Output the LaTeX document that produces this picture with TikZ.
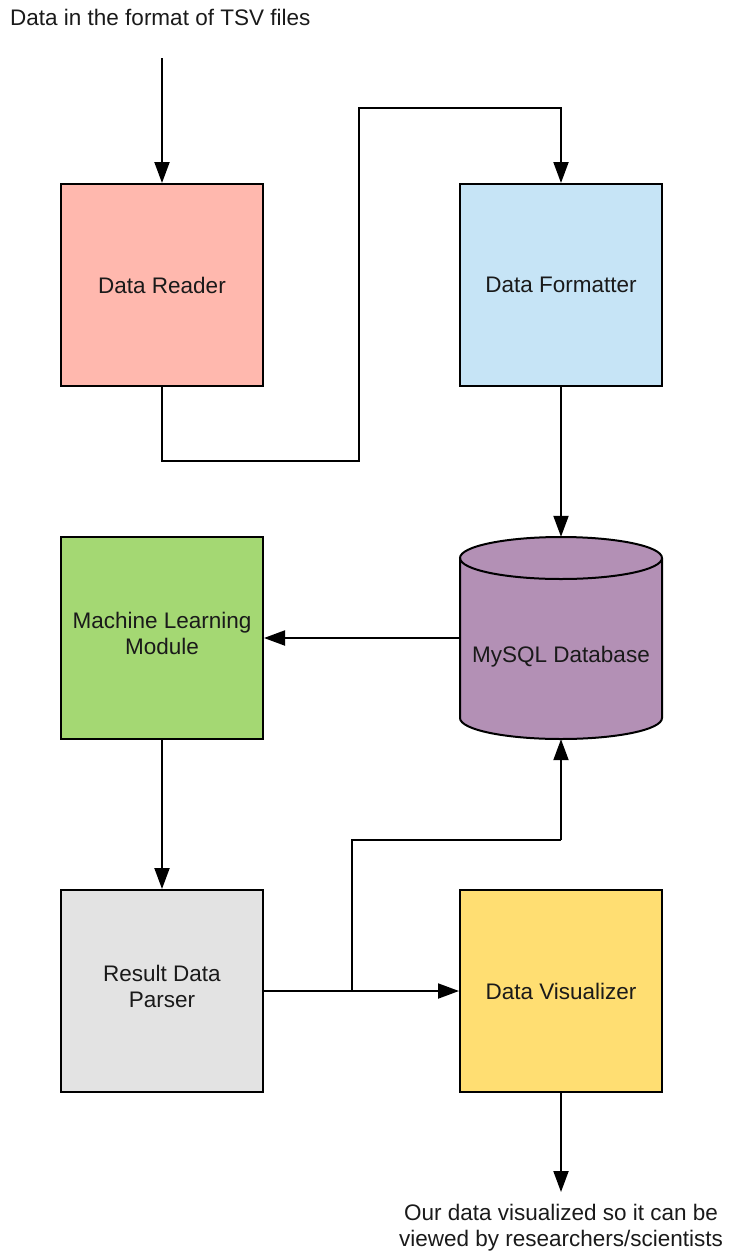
\documentclass[tikz,border=0pt]{standalone}
\usepackage{fontspec}
\setmainfont{Liberation Sans}
\usetikzlibrary{arrows.meta}
\definecolor{readerfill}{HTML}{FFB8AE}
\definecolor{formatfill}{HTML}{C6E4F6}
\definecolor{mlfill}{HTML}{A4D873}
\definecolor{dbfill}{HTML}{B390B5}
\definecolor{parsefill}{HTML}{E3E3E3}
\definecolor{visfill}{HTML}{FFDE72}
\definecolor{ink}{HTML}{1A1A1A}
\begin{document}
\begin{tikzpicture}[x=1pt,y=-1pt,
  font=\fontsize{22.5}{26}\selectfont,
  block/.style={draw=black,line width=2pt,minimum width=202pt,minimum height=202pt,
    inner sep=0pt,align=center,text=ink},
  flow/.style={draw=black,line width=2pt,-{Triangle[length=21pt,width=15pt]}},
  wire/.style={draw=black,line width=2pt},
  label/.style={text=ink,inner sep=0pt,align=center}]
\useasboundingbox (0,0) rectangle (729,1256);

% process blocks
\node[block,fill=readerfill] (reader) at (162,285) {Data Reader};
\node[block,fill=formatfill] (formatter) at (561,285) {Data Formatter};
\node[block,fill=mlfill] (ml) at (162,638) {};
\node[label] at (162,633) {Machine Learning\\Module};
\node[block,fill=parsefill] (parser) at (162,991) {};
\node[label] at (162,986) {Result Data\\Parser};
\node[block,fill=visfill] (vis) at (561,991) {Data Visualizer};

% database cylinder (y axis points down, so the lower rim passes through 90 degrees)
\fill[dbfill] (460,558) -- (460,718) arc[start angle=180,end angle=0,x radius=101,y radius=21]
  -- (662,558) arc[start angle=0,end angle=-180,x radius=101,y radius=21] -- cycle;
\draw[line width=2pt] (460,558) -- (460,718) arc[start angle=180,end angle=0,x radius=101,y radius=21]
  -- (662,558);
\draw[line width=2pt] (561,558) ellipse[x radius=101,y radius=21];
\node[minimum width=202pt,minimum height=202pt,inner sep=0pt] (db) at (561,638) {};
\node[label] at (561,657) {MySQL Database};

% free texts
\node[label,anchor=west] (src) at (10,17) {Data in the format of TSV files};
\coordinate (srcend) at (162,58);
\node[label] (out) at (561,1228) {Our data visualized so it can be\\viewed by researchers/scientists};
\coordinate (outend) at (561,1192);

% connectors
\draw[flow] (srcend) -- (reader.north);
\draw[flow] (reader.south) |- (359,461) |- (561,108) -- (formatter.north);
\draw[flow] (formatter.south) -- (db.north);
\draw[flow] (db.west) -- (ml.east);
\draw[flow] (ml.south) -- (parser.north);
\draw[flow] (parser.east) -- (vis.west);
\coordinate (split) at (352,991);
\draw[wire] (split) |- (561,840);
\draw[flow] (561,840) -- (db.south);
\draw[flow] (vis.south) -- (outend);
\end{tikzpicture}
\end{document}
